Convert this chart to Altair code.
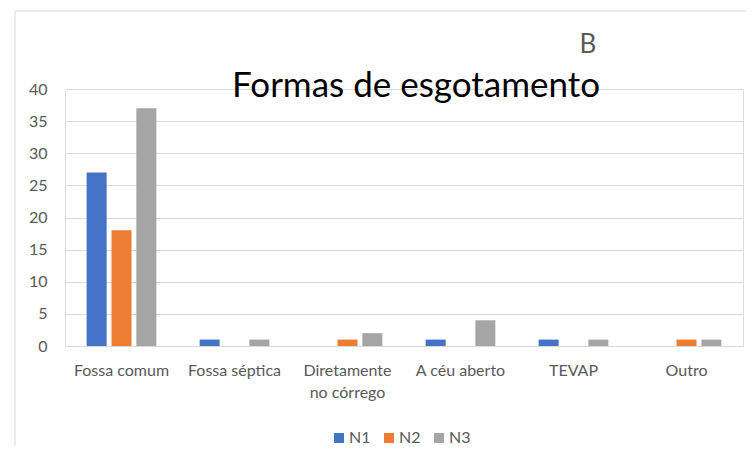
import altair as alt
import pandas as pd

categories = ["Fossa comum", "Fossa séptica", "Diretamente no córrego", "A céu aberto", "TEVAP", "Outro"]
series = ["N1", "N2", "N3"]
n1 = [27, 1, 0, 1, 1, 0]
n2 = [18, 0, 1, 0, 0, 1]
n3 = [37, 1, 2, 4, 1, 1]
colors = ["#4472C4", "#ED7D31", "#A5A5A5"]
y_ticks = [0, 5, 10, 15, 20, 25, 30, 35, 40]
title_text = ["Formas de esgotamento"]
panel_letter = ["B"]

rows = []
for s, vals in zip(series, [n1, n2, n3]):
    for c, v in zip(categories, vals):
        rows.append({"cat": c, "serie": s, "valor": v})
df = pd.DataFrame(rows)

FONT = "Lato"
GRAY = "#595959"

bars = alt.Chart(df).mark_bar(width=20).encode(
    x=alt.X("cat:N", sort=categories,
            scale=alt.Scale(paddingInner=0.34, paddingOuter=0.17),
            axis=alt.Axis(title=None, labelAngle=0, ticks=False, domain=False, grid=False,
                          labelFont=FONT, labelFontSize=16,
                          labelColor=GRAY, labelPadding=16, labelLineHeight=22,
                          labelLimit=0,
                          labelExpr="datum.label == 'Diretamente no córrego' ? ['Diretamente', 'no córrego'] : datum.label")),
    xOffset=alt.XOffset("serie:N", sort=series, scale=alt.Scale(paddingInner=0, paddingOuter=0)),
    y=alt.Y("valor:Q", scale=alt.Scale(domain=[0, 40], nice=False),
            axis=alt.Axis(title=None, values=y_ticks, ticks=False, domain=False,
                          gridColor="#d9d9d9", labelFont=FONT, labelFontSize=16,
                          labelColor=GRAY, labelPadding=18)),
    color=alt.Color("serie:N", sort=series,
                    scale=alt.Scale(domain=series, range=colors),
                    legend=alt.Legend(title=None, orient="none", legendX=266, legendY=341,
                                      direction="horizontal",
                                      symbolType="square", symbolSize=100,
                                      labelFont=FONT, labelFontSize=16, labelColor=GRAY,
                                      columnPadding=10, labelOffset=2)),
)

title = alt.Chart(pd.DataFrame({"t": title_text})).mark_text(
    font=FONT, fontSize=35, color="#000000", align="center", baseline="alphabetic"
).encode(x=alt.value(351), y=alt.value(8), text="t:N")

letter = alt.Chart(pd.DataFrame({"t": panel_letter})).mark_text(
    font=FONT, fontSize=26, color=GRAY, align="center", baseline="alphabetic"
).encode(x=alt.value(523), y=alt.value(-36), text="t:N")

border_top = alt.Chart(pd.DataFrame({"a": [0]})).mark_rule(color="#d9d9d9", strokeWidth=1).encode(
    x=alt.value(-50), x2=alt.value(690), y=alt.value(-78))
border_left = alt.Chart(pd.DataFrame({"a": [0]})).mark_rule(color="#d9d9d9", strokeWidth=1).encode(
    x=alt.value(-50), y=alt.value(-78), y2=alt.value(400))

chart = alt.layer(border_top, border_left, bars, title, letter).properties(
    width=678, height=257,
    padding={"left": 57, "top": 81, "right": 3, "bottom": 100},
    autosize=alt.AutoSizeParams(type="none"),
).configure_view(strokeWidth=0, stroke="transparent").configure(background="white")

chart.save("out.html", embed_options={"renderer": "svg", "actions": False})
